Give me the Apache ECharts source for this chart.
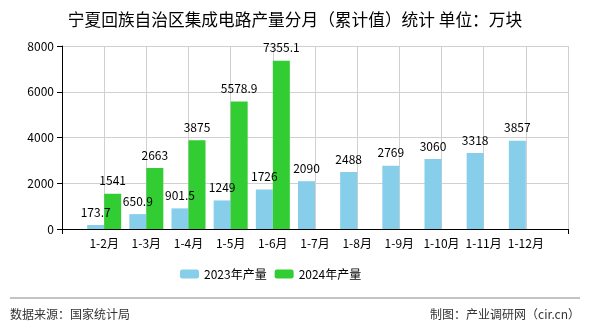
<!DOCTYPE html>
<html><head><meta charset="utf-8">
<script src="https://cdn.jsdelivr.net/npm/echarts@6/dist/echarts.min.js"></script>
<style>html,body{margin:0;padding:0;background:#fff}#c{width:590px;height:330px}</style>
</head><body><div id="c"></div>
<script>
const categories = ['', '1-2月', '1-3月', '1-4月', '1-5月', '1-6月', '1-7月', '1-8月', '1-9月', '1-10月', '1-11月', '1-12月', ''];
const values2023 = [null, 173.7, 650.9, 901.5, 1249, 1726, 2090, 2488, 2769, 3060, 3318, 3857, null];
const values2024 = [null, 1541, 2663, 3875, 5578.9, 7355.1, null, null, null, null, null, null, null];
const seriesNames = ['2023年产量', '2024年产量'];
const yTicks = { min: 0, max: 8000, interval: 2000 };

const FONT = 'Noto Sans CJK SC';
const chart = echarts.init(document.getElementById('c'));
chart.setOption({
  animation: false,
  textStyle: { fontFamily: FONT },
  title: {
    text: '宁夏回族自治区集成电路产量分月（累计值）统计 单位：万块',
    left: 'center', top: 6,
    textStyle: { fontSize: 16.7, fontWeight: 'normal', color: '#000', fontFamily: FONT }
  },
  grid: { left: 62, right: 22, top: 46, bottom: 101 },
  legend: {
    bottom: 45, left: 175, itemWidth: 19, itemHeight: 9, itemGap: 8,
    textStyle: { fontSize: 12, color: '#000', fontFamily: FONT },
    data: seriesNames
  },
  xAxis: {
    type: 'category', data: categories, boundaryGap: false,
    axisLine: { lineStyle: { color: '#000', width: 1 } },
    axisTick: { show: true, length: 5, interval: (i) => i === 0 || i === categories.length - 1, lineStyle: { color: '#000' } },
    axisLabel: { color: '#000', fontSize: 12, margin: 8, interval: 0, fontFamily: FONT },
    splitLine: { show: true, interval: 0, lineStyle: { color: '#d0d0d0' } }
  },
  yAxis: {
    type: 'value', min: yTicks.min, max: yTicks.max, interval: yTicks.interval,
    axisLine: { show: true, lineStyle: { color: '#000' } },
    axisTick: { show: true, length: 5, lineStyle: { color: '#000' } },
    axisLabel: { color: '#000', fontSize: 12, margin: 8, fontFamily: FONT, formatter: (v) => String(v) },
    splitLine: { show: true, lineStyle: { color: '#d0d0d0' } }
  },
  series: [
    {
      name: seriesNames[0], type: 'bar', data: values2023, barWidth: 17, barGap: '0%',
      itemStyle: { color: '#87CEEB' },
      label: { show: true, position: 'top', color: '#000', fontSize: 12, distance: 7, fontFamily: FONT }
    },
    {
      name: seriesNames[1], type: 'bar', data: values2024, barWidth: 17, barGap: '0%',
      itemStyle: { color: '#32CD32' },
      label: { show: true, position: 'top', color: '#000', fontSize: 12, distance: 7, fontFamily: FONT }
    }
  ],
  graphic: [
    { type: 'line', shape: { x1: 10, y1: 298, x2: 580, y2: 298 }, style: { stroke: '#888', lineWidth: 1 } },
    { type: 'text', left: 10, top: 308, style: { text: '数据来源：国家统计局', fontSize: 12, fill: '#333', fontFamily: FONT } },
    { type: 'text', right: 10, top: 308, style: { text: '制图：产业调研网（cir.cn）', fontSize: 12, fill: '#333', fontFamily: FONT } }
  ]
});
</script></body></html>
